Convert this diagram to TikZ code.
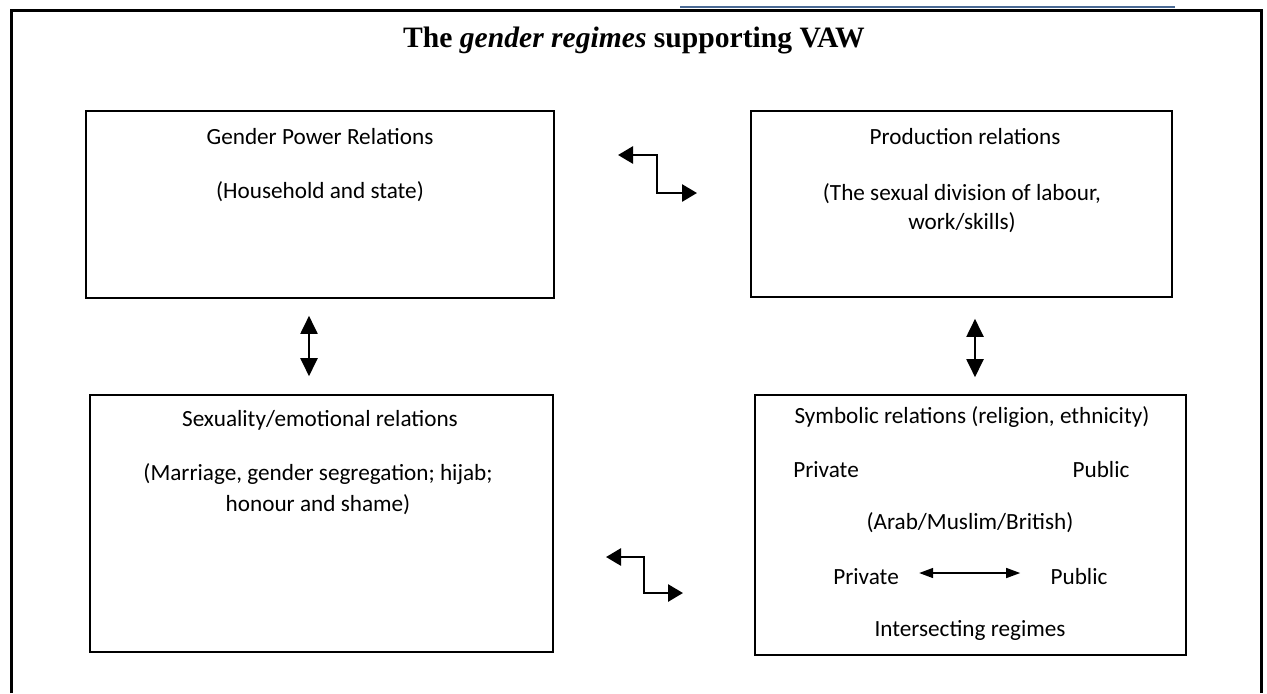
\documentclass[tikz,border=0pt]{standalone}
\usepackage{fontspec}
\setmainfont{Carlito}
\newfontfamily\titlefont{Liberation Serif}
\usetikzlibrary{arrows.meta,positioning}
\definecolor{topblue}{HTML}{4A6A94}

\begin{document}
\begin{tikzpicture}[x=0.5pt,y=-0.5pt,
 frame/.style={draw=black,line width=1.5pt},
 box/.style={draw=black,line width=0.8pt,inner sep=0pt},
 txt/.style={font=\fontsize{11.6}{14.3}\selectfont,align=center,inner sep=0pt},
 dbl/.style={{Triangle[length=9pt,width=8.5pt]}-{Triangle[length=9pt,width=8.5pt]},line width=1pt},
 zig/.style={{Triangle[length=7.5pt,width=8.5pt]}-{Triangle[length=7.5pt,width=8.5pt]},line width=1.35pt},
 inarr/.style={{Triangle[length=7pt,width=5pt]}-{Triangle[length=7pt,width=5pt]},line width=0.75pt}
]
\useasboundingbox (0,0) rectangle (1267,693);
\draw[topblue,line width=0.6pt] (680,7) -- (1175,7);
\draw[frame] (11,693) -- (11,10) -- (1261,10) -- (1261,693);
\node[font=\titlefont\fontsize{14.8}{17}\selectfont\bfseries,inner sep=0pt] (title) at (634,40) {The \textit{gender regimes} supporting VAW};

\node[box,minimum width=234pt,minimum height=93.5pt] (gpr) at (320,204.5) {};
\node[box,minimum width=210.5pt,minimum height=93pt] (prod) at (961.5,204) {};
\node[box,minimum width=231.5pt,minimum height=128.5pt] (sex) at (321.5,523.5) {};
\node[box,minimum width=215.5pt,minimum height=130pt] (symb) at (970.5,525) {};

\node[txt] (gprhead) at (320,137) {Gender Power Relations};
\node[txt] (gprbody) at (320,192) {(Household and state)};
\node[txt] (prodhead) at (965,137) {Production relations};
\node[txt] (prodbody) at (962,208) {(The sexual division of labour,\\work/skills)};
\node[txt] (sexhead) at (320,420) {Sexuality/emotional relations};
\node[txt,font=\fontsize{11.6}{15.5}\selectfont] (sexbody) at (318,489) {(Marriage, gender segregation; hijab;\\honour and shame)};
\node[txt] (symbhead) at (972,417) {Symbolic relations (religion, ethnicity)};
\node[txt] (priv) at (826,470) {Private};
\node[txt] (pub) at (1101,470) {Public};
\node[txt] (arab) at (970,523) {(Arab/Muslim/British)};
\node[txt] (privb) at (866,577) {Private};
\node[txt] (pubb) at (1079,577) {Public};
\node[txt] (inter) at (970,630) {Intersecting regimes};

\coordinate (zigtl) at (618,155);
\coordinate (zigtr) at (697,193);
\coordinate (zigbl) at (606,557);
\coordinate (zigbr) at (683,593);

\draw[dbl] ([xshift=-5.5pt,yshift=-8.5pt]gpr.south) -- ([xshift=-6.25pt,yshift=9pt]sex.north);
\draw[dbl] ([xshift=6.75pt,yshift=-10.5pt]prod.south) -- ([xshift=2.25pt,yshift=8.5pt]symb.north);
\draw[zig] (zigtl) -- ++(39,0) |- (zigtr);
\draw[zig] (zigbl) -- ++(38,0) |- (zigbr);
\draw[inarr,shorten <=10pt,shorten >=15pt] ([yshift=2pt]privb.east) -- ([yshift=2pt]pubb.west);
\end{tikzpicture}
\end{document}
